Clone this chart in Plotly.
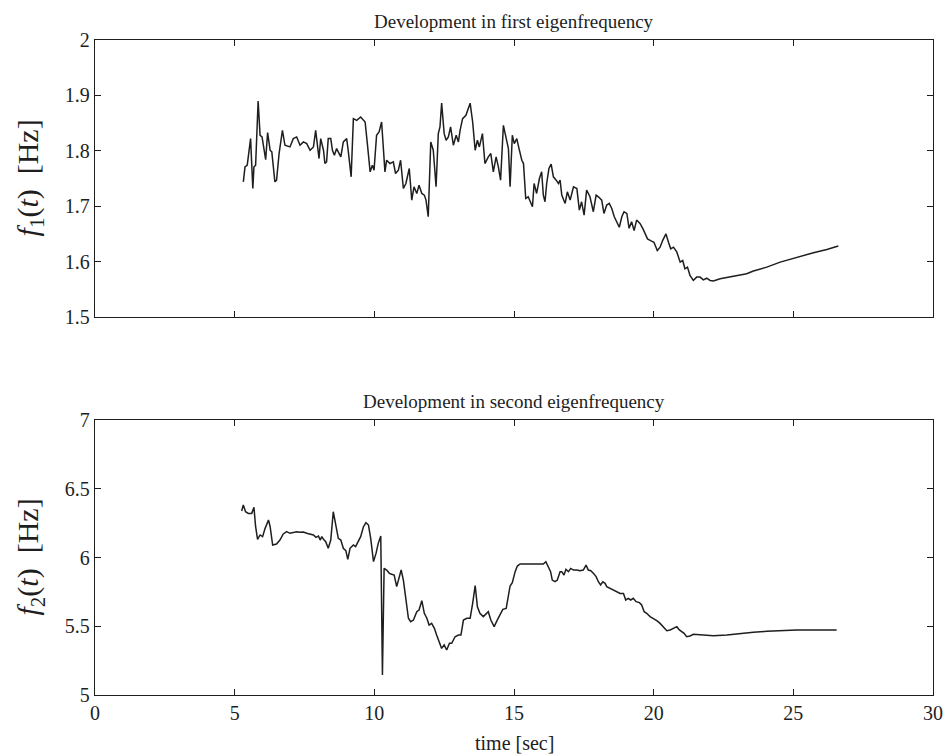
import plotly.graph_objects as go
from plotly.subplots import make_subplots

t1 = [5.31, 5.37, 5.45, 5.57, 5.65, 5.69, 5.75, 5.84, 5.91, 5.98, 6.11, 6.18, 6.27, 6.33, 6.44, 6.50,
      6.59, 6.71, 6.80, 6.98, 7.10, 7.22, 7.34, 7.46, 7.58, 7.70, 7.82, 7.90, 8.02, 8.08, 8.18, 8.23,
      8.29, 8.35, 8.44, 8.50, 8.57, 8.65, 8.74, 8.80, 8.89, 9.01, 9.07, 9.17, 9.25, 9.37, 9.51, 9.67,
      9.75, 9.85, 9.93, 9.99, 10.08, 10.17, 10.26, 10.32, 10.38, 10.44, 10.56, 10.68, 10.76, 10.86,
      10.94, 11.04, 11.13, 11.25, 11.34, 11.42, 11.52, 11.60, 11.70, 11.79, 11.85, 11.93, 12.02, 12.11,
      12.21, 12.29, 12.35, 12.41, 12.50, 12.57, 12.65, 12.73, 12.83, 12.93, 13.01, 13.07, 13.16, 13.28,
      13.43, 13.52, 13.61, 13.69, 13.76, 13.87, 13.96, 14.08, 14.17, 14.26, 14.36, 14.44, 14.52, 14.62,
      14.72, 14.80, 14.86, 14.94, 15.01, 15.10, 15.18, 15.28, 15.34, 15.42, 15.51, 15.57, 15.66, 15.72,
      15.81, 15.91, 15.99, 16.05, 16.11, 16.17, 16.25, 16.33, 16.41, 16.51, 16.59, 16.65, 16.71, 16.83,
      16.91, 17.01, 17.13, 17.25, 17.34, 17.42, 17.51, 17.60, 17.72, 17.84, 17.94, 18.02, 18.14, 18.22,
      18.32, 18.41, 18.50, 18.59, 18.68, 18.77, 18.86, 18.94, 19.04, 19.12, 19.21, 19.30, 19.39, 19.51,
      19.61, 19.69, 19.78, 19.89, 20.01, 20.13, 20.23, 20.32, 20.44, 20.53, 20.61, 20.71, 20.83, 20.95,
      21.04, 21.12, 21.21, 21.30, 21.42, 21.54, 21.66, 21.78, 21.90, 22.02, 22.14, 22.38, 22.62, 22.85,
      23.09, 23.33, 23.57, 24.05, 24.53, 25.12, 25.72, 26.20, 26.61]
f1 = [1.744, 1.771, 1.774, 1.822, 1.732, 1.771, 1.774, 1.890, 1.828, 1.825, 1.784, 1.833, 1.801, 1.798,
      1.744, 1.747, 1.795, 1.837, 1.810, 1.807, 1.822, 1.825, 1.810, 1.816, 1.813, 1.801, 1.807, 1.837,
      1.786, 1.822, 1.801, 1.777, 1.780, 1.822, 1.822, 1.801, 1.792, 1.804, 1.795, 1.789, 1.816, 1.822,
      1.798, 1.753, 1.858, 1.855, 1.861, 1.852, 1.813, 1.762, 1.774, 1.765, 1.828, 1.834, 1.852, 1.813,
      1.762, 1.783, 1.777, 1.780, 1.759, 1.765, 1.783, 1.732, 1.741, 1.768, 1.711, 1.735, 1.723, 1.738,
      1.723, 1.720, 1.711, 1.681, 1.816, 1.801, 1.735, 1.831, 1.843, 1.886, 1.831, 1.819, 1.825, 1.843,
      1.810, 1.828, 1.816, 1.837, 1.858, 1.864, 1.886, 1.852, 1.801, 1.819, 1.807, 1.831, 1.777, 1.789,
      1.795, 1.762, 1.789, 1.771, 1.747, 1.846, 1.825, 1.804, 1.735, 1.828, 1.813, 1.822, 1.804, 1.783,
      1.777, 1.714, 1.717, 1.711, 1.699, 1.741, 1.723, 1.750, 1.762, 1.720, 1.708, 1.741, 1.768, 1.776,
      1.753, 1.747, 1.741, 1.747, 1.720, 1.705, 1.726, 1.711, 1.735, 1.732, 1.693, 1.708, 1.684, 1.729,
      1.717, 1.690, 1.720, 1.717, 1.711, 1.687, 1.702, 1.705, 1.696, 1.681, 1.672, 1.662, 1.681, 1.690,
      1.687, 1.660, 1.672, 1.656, 1.675, 1.669, 1.660, 1.650, 1.641, 1.638, 1.635, 1.620, 1.626, 1.638,
      1.650, 1.635, 1.623, 1.626, 1.617, 1.599, 1.602, 1.587, 1.590, 1.575, 1.566, 1.572, 1.572, 1.567,
      1.570, 1.566, 1.565, 1.569, 1.571, 1.573, 1.575, 1.578, 1.583, 1.590, 1.599, 1.608, 1.616, 1.622,
      1.628]

t2 = [5.25, 5.31, 5.39, 5.49, 5.61, 5.69, 5.75, 5.82, 5.91, 6.00, 6.09, 6.21, 6.27, 6.36, 6.50, 6.62,
      6.74, 6.86, 6.98, 7.10, 7.22, 7.34, 7.46, 7.58, 7.70, 7.82, 7.91, 8.00, 8.06, 8.12, 8.18, 8.26,
      8.35, 8.44, 8.53, 8.62, 8.71, 8.80, 8.89, 8.98, 9.05, 9.13, 9.25, 9.33, 9.43, 9.51, 9.61, 9.70,
      9.79, 9.87, 9.97, 10.06, 10.14, 10.23, 10.29, 10.35, 10.44, 10.54, 10.62, 10.71, 10.80, 10.86,
      10.96, 11.04, 11.13, 11.22, 11.30, 11.40, 11.52, 11.60, 11.70, 11.79, 11.88, 11.96, 12.05, 12.15,
      12.23, 12.32, 12.41, 12.50, 12.59, 12.69, 12.77, 12.89, 13.01, 13.10, 13.19, 13.31, 13.43, 13.52,
      13.61, 13.69, 13.78, 13.90, 14.00, 14.08, 14.17, 14.29, 14.40, 14.52, 14.60, 14.72, 14.80, 14.86,
      14.94, 15.04, 15.12, 15.22, 15.57, 16.05, 16.14, 16.23, 16.31, 16.37, 16.47, 16.55, 16.65, 16.71,
      16.79, 16.86, 16.95, 17.03, 17.13, 17.25, 17.36, 17.48, 17.58, 17.66, 17.75, 17.84, 17.94, 18.02,
      18.10, 18.18, 18.26, 18.32, 18.44, 18.56, 18.68, 18.80, 18.92, 19.00, 19.09, 19.18, 19.27, 19.37,
      19.49, 19.57, 19.66, 19.75, 19.87, 19.99, 20.11, 20.23, 20.35, 20.47, 20.59, 20.71, 20.83, 20.92,
      21.00, 21.09, 21.18, 21.30, 21.42, 21.66, 22.14, 22.62, 23.09, 23.57, 24.05, 24.53, 25.12, 25.72,
      26.55]
f2 = [6.338, 6.382, 6.333, 6.321, 6.321, 6.365, 6.224, 6.132, 6.164, 6.152, 6.212, 6.273, 6.224, 6.091,
      6.098, 6.127, 6.171, 6.188, 6.176, 6.183, 6.188, 6.183, 6.185, 6.176, 6.171, 6.164, 6.147, 6.156,
      6.127, 6.152, 6.132, 6.115, 6.067, 6.127, 6.333, 6.248, 6.139, 6.127, 6.067, 6.050, 5.987, 6.067,
      6.091, 6.079, 6.127, 6.152, 6.224, 6.253, 6.236, 6.139, 5.970, 6.030, 6.103, 6.156, 5.145, 5.921,
      5.909, 5.885, 5.878, 5.873, 5.788, 5.836, 5.909, 5.836, 5.715, 5.558, 5.533, 5.545, 5.606, 5.618,
      5.686, 5.594, 5.558, 5.509, 5.521, 5.485, 5.436, 5.388, 5.339, 5.364, 5.327, 5.376, 5.376, 5.424,
      5.436, 5.436, 5.545, 5.558, 5.558, 5.667, 5.795, 5.642, 5.594, 5.570, 5.594, 5.606, 5.545, 5.497,
      5.545, 5.594, 5.623, 5.630, 5.715, 5.793, 5.817, 5.897, 5.938, 5.953, 5.953, 5.953, 5.970, 5.933,
      5.897, 5.836, 5.824, 5.836, 5.897, 5.897, 5.873, 5.914, 5.897, 5.921, 5.909, 5.909, 5.904, 5.909,
      5.945, 5.909, 5.904, 5.885, 5.861, 5.824, 5.800, 5.824, 5.812, 5.788, 5.776, 5.759, 5.747, 5.739,
      5.739, 5.691, 5.703, 5.691, 5.703, 5.679, 5.672, 5.655, 5.606, 5.594, 5.570, 5.558, 5.541, 5.521,
      5.497, 5.468, 5.473, 5.485, 5.497, 5.473, 5.461, 5.448, 5.424, 5.429, 5.441, 5.436, 5.431, 5.436,
      5.448, 5.456, 5.463, 5.468, 5.473, 5.473, 5.473]

x_ticks = [0, 5, 10, 15, 20, 25, 30]
y1_ticks = [1.5, 1.6, 1.7, 1.8, 1.9, 2.0]
y1_labels = ["1.5", "1.6", "1.7", "1.8", "1.9", "2"]
y2_ticks = [5, 5.5, 6, 6.5, 7]
y2_labels = ["5", "5.5", "6", "6.5", "7"]

SERIF = "Liberation Serif, Times New Roman, serif"
INK = "#1e1e1e"

fig = make_subplots(rows=2, cols=1, vertical_spacing=0.1573)
fig.add_trace(go.Scatter(x=t1, y=f1, mode="lines", line=dict(color=INK, width=1.5),
                         showlegend=False), row=1, col=1)
fig.add_trace(go.Scatter(x=t2, y=f2, mode="lines", line=dict(color=INK, width=1.5),
                         showlegend=False), row=2, col=1)

axis_common = dict(showline=True, linecolor=INK, linewidth=1.3, mirror="allticks",
                   ticks="inside", ticklen=6, tickcolor=INK, tickwidth=1.2,
                   showgrid=False, zeroline=False, automargin=False,
                   tickfont=dict(family=SERIF, size=20, color=INK))

fig.update_xaxes(range=[0, 30], tickvals=x_ticks, **axis_common)
fig.update_xaxes(showticklabels=False, row=1, col=1)
fig.update_yaxes(range=[1.5, 2.0], tickvals=y1_ticks, ticktext=y1_labels, row=1, col=1, **axis_common)
fig.update_yaxes(range=[5, 7], tickvals=y2_ticks, ticktext=y2_labels, row=2, col=1, **axis_common)

fig.update_layout(
    width=946, height=756,
    margin=dict(l=95, r=13, t=40, b=61),
    paper_bgcolor="white", plot_bgcolor="white",
    annotations=[
        dict(text="Development in first eigenfrequency", xref="paper", yref="paper",
             x=0.5, y=1.0, yshift=6, xanchor="center", yanchor="bottom", showarrow=False,
             font=dict(family=SERIF, size=19, color=INK)),
        dict(text="Development in second eigenfrequency", xref="paper", yref="paper",
             x=0.5, y=0.4198, yshift=6, xanchor="center", yanchor="bottom", showarrow=False,
             font=dict(family=SERIF, size=19, color=INK)),
        dict(text="time [sec]", xref="paper", yref="paper",
             x=0.5, y=0.0, yshift=-35, xanchor="center", yanchor="top", showarrow=False,
             font=dict(family=SERIF, size=20, color=INK)),
        dict(text="<i>f</i><sub>1</sub>(<i>t</i>)  [Hz]", xref="paper", yref="paper",
             x=0.0, xshift=-65, y=0.7886, xanchor="center", yanchor="middle", textangle=-90,
             showarrow=False, font=dict(family=SERIF, size=30, color=INK)),
        dict(text="<i>f</i><sub>2</sub>(<i>t</i>)  [Hz]", xref="paper", yref="paper",
             x=0.0, xshift=-65, y=0.2099, xanchor="center", yanchor="middle", textangle=-90,
             showarrow=False, font=dict(family=SERIF, size=30, color=INK)),
    ],
)
fig.update_yaxes(domain=[0.5771, 1.0], row=1, col=1)
fig.update_yaxes(domain=[0.0, 0.4198], row=2, col=1)

fig.write_html("out.html", config={"displayModeBar": False},
               post_script="document.body.style.margin='0';")
